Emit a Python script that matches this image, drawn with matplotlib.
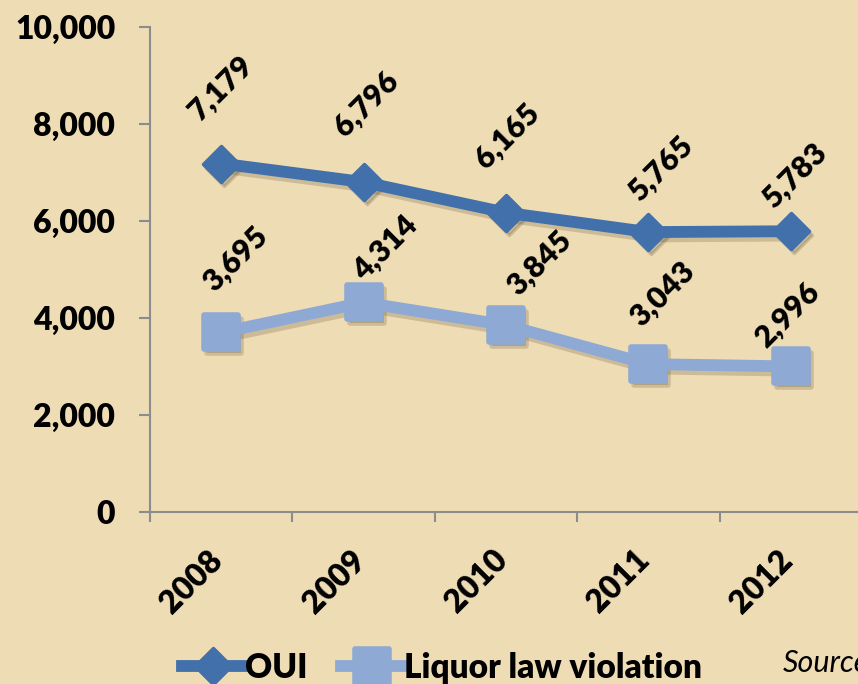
import matplotlib
matplotlib.use('Agg')
import matplotlib.pyplot as plt
import matplotlib.transforms as mtransforms
from matplotlib.lines import Line2D
from matplotlib.markers import MarkerStyle
import numpy as np

plt.rcParams['font.family'] = ['Lato', 'DejaVu Sans']

years = ['2008', '2009', '2010', '2011', '2012']
oui = [7179, 6796, 6165, 5765, 5783]
liquor = [3695, 4314, 3845, 3043, 2996]

# label offsets in pixels (label centre relative to its point)
oui_off = [(0, 76), (3, 78), (1, 77), (13, 64), (4, 56)]
liq_off = [(14, 74), (21, 55), (33, 62), (14, 70), (-4, 52)]

c_oui = '#4170aa'
c_liq = '#8eaad4'
bg = '#eedcb5'
axis_col = '#8c8c8c'
wt = 'heavy'

fig = plt.figure(figsize=(8.58, 6.84), dpi=100, facecolor=bg)
ax = fig.add_axes([150/858, 1 - 511.7/684, 712/858, 485/684])
ax.set_facecolor('none')

x = np.arange(len(years))

# drop shadows
shadow = mtransforms.offset_copy(ax.transData, fig=fig, x=3, y=-4, units='dots')
for vals, mk, ms, mew in [(oui, 'D', 18, 2.5), (liquor, 's', 25, 4)]:
    ax.plot(x, vals, color='#5a4a30', alpha=0.22, lw=9, transform=shadow,
            marker=MarkerStyle(mk, joinstyle='round'), ms=ms, mew=mew,
            solid_joinstyle='round', zorder=1)

ax.plot(x, oui, color=c_oui, lw=8.5, marker=MarkerStyle('D', joinstyle='round'),
        ms=18, mew=2.5, mec=c_oui, mfc=c_oui, zorder=3, label='OUI')
ax.plot(x, liquor, color=c_liq, lw=8.5, marker=MarkerStyle('s', joinstyle='round'),
        ms=25, mew=4, mec=c_liq, mfc=c_liq, zorder=2, label='Liquor law violation')

for xi, v, off in zip(x, oui, oui_off):
    ax.annotate(f'{v:,}', (xi, v), xytext=off, textcoords='offset pixels',
                rotation=45, ha='center', va='center', fontsize=22,
                fontweight=wt, zorder=5)
for xi, v, off in zip(x, liquor, liq_off):
    ax.annotate(f'{v:,}', (xi, v), xytext=off, textcoords='offset pixels',
                rotation=45, ha='center', va='center', fontsize=22,
                fontweight=wt, zorder=5)

ax.set_xlim(-0.5, 4.5)
ax.set_ylim(0, 10000)

for s in ['top', 'right']:
    ax.spines[s].set_visible(False)
for s in ['left', 'bottom']:
    ax.spines[s].set_color(axis_col)
    ax.spines[s].set_linewidth(1.5)

ax.set_yticks(np.arange(0, 10001, 2000))
ax.set_yticklabels([f'{t:,}' for t in range(0, 10001, 2000)])
ax.tick_params(axis='y', length=8, width=1.5, color=axis_col, pad=17,
               labelsize=23)
for lab in ax.get_yticklabels():
    lab.set_fontweight(wt)

ax.set_xticks(np.arange(-0.5, 5, 1))
ax.set_xticklabels([])
ax.tick_params(axis='x', which='major', length=7, width=1.5, color=axis_col)
ax.set_xticks(x, years, minor=True)
ax.tick_params(axis='x', which='minor', length=0, pad=24, labelsize=23)
shift = mtransforms.ScaledTranslation(7/100, 0, fig.dpi_scale_trans)
for lab in ax.get_xticklabels(minor=True):
    lab.set_rotation(45)
    lab.set_ha('right')
    lab.set_va('top')
    lab.set_fontweight(wt)
    lab.set_transform(lab.get_transform() + shift)

handles = [
    Line2D([], [], color=c_oui, lw=8.5, marker=MarkerStyle('D', joinstyle='round'),
           ms=18, mew=2.5, mec=c_oui, mfc=c_oui),
    Line2D([], [], color=c_liq, lw=8.5, marker=MarkerStyle('s', joinstyle='round'),
           ms=25, mew=4, mec=c_liq, mfc=c_liq),
]
fig.legend(handles, ['OUI', 'Liquor law violation'], loc='center left',
           bbox_to_anchor=(182/858, 1 - 668/684), ncol=2, frameon=False,
           borderpad=0, borderaxespad=0, handlelength=1.85, handletextpad=0.05,
           columnspacing=1.0, prop={'size': 24, 'weight': wt})

fig.text(783/858, 1 - 663/684, 'Source', fontsize=22, style='italic',
         ha='left', va='center')

fig.savefig('out.png', dpi=100, facecolor=bg)
